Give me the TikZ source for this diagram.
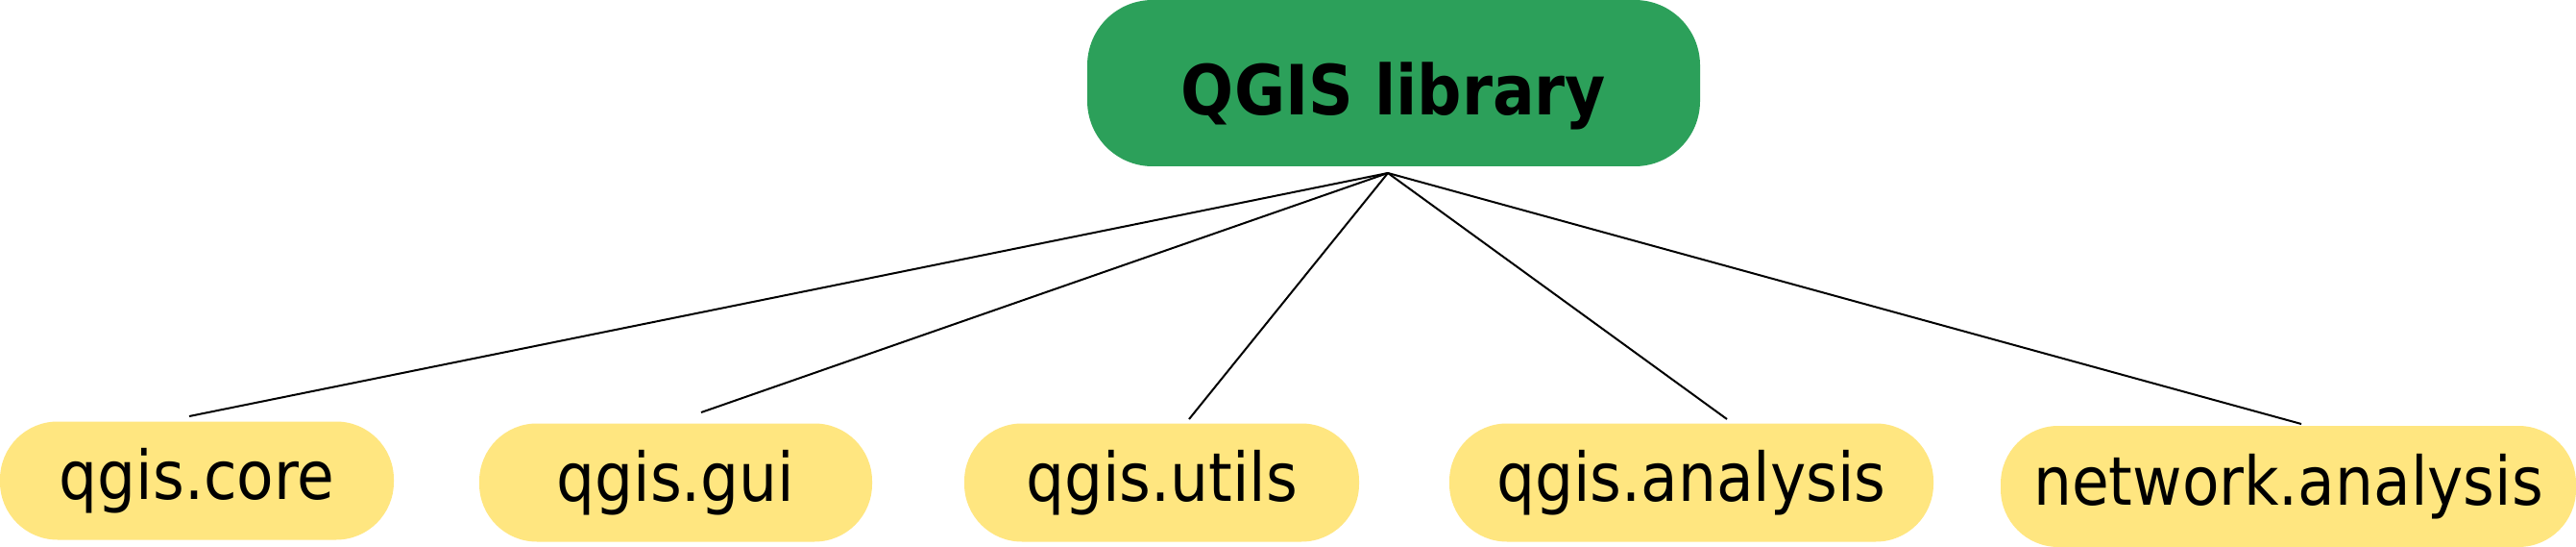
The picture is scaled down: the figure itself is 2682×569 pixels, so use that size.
\documentclass[tikz,border=0pt]{standalone}
\usepackage{fontspec}
\setmainfont{DejaVu Sans Condensed}
\begin{document}
\begin{tikzpicture}[x=1pt,y=-1pt,
  topbox/.style={fill={rgb,255:red,44;green,160;blue,90}, rounded corners=68pt, inner sep=0pt},
  toptext/.style={inner sep=0pt, font=\fontsize{72}{84}\selectfont\bfseries},
  modbox/.style={fill={rgb,255:red,255;green,230;blue,128}, rounded corners=60pt, inner sep=0pt,
    minimum height=123pt, font=\fontsize{70}{82}\selectfont},
  link/.style={line width=2pt, black}]
\fill[white] (0,0) rectangle (2682,569);
\useasboundingbox (0,0) rectangle (2682,569);
\node[topbox, minimum width=638pt, minimum height=173pt] (top) at (1451,86.5) {};
\node[toptext] (toplabel) at ([yshift=-13pt]top.center) {QGIS library};
\node[modbox, minimum width=410pt] (core) at (205,500) {qgis.core};
\node[modbox, minimum width=409pt] (gui) at (703.5,502) {qgis.gui};
\node[modbox, minimum width=411pt] (utils) at (1209.5,502) {qgis.utils};
\node[modbox, minimum width=504pt] (analysis) at (1761,502) {qgis.analysis};
\node[modbox, minimum width=599pt, minimum height=126pt] (network) at (2382.5,506) {network.analysis};
\coordinate (hub) at (1445,180);
\coordinate (e1) at (197,433);
\coordinate (e2) at (730,429);
\coordinate (e3) at (1238,436);
\coordinate (e4) at (1798,436);
\coordinate (e5) at (2396,441);
\foreach \e in {e1,e2,e3,e4,e5} \draw[link] (hub) -- (\e);
\end{tikzpicture}
\end{document}
